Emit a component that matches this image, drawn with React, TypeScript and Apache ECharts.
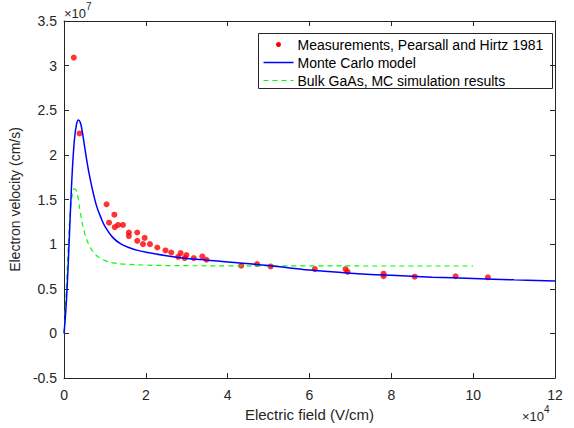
import React, { useEffect, useRef } from "react";
import * as echarts from "echarts";

const measX = [0.24, 0.38, 1.04, 1.10, 1.23, 1.24, 1.32, 1.44, 1.585, 1.585, 1.79, 1.79, 1.93, 1.97, 2.10, 2.28, 2.48, 2.62, 2.79, 2.85, 2.95, 2.99, 3.17, 3.38, 3.48, 4.33, 4.72, 5.05, 6.13, 6.88, 6.93, 7.81, 7.81, 8.57, 9.57, 10.36];
const measY = [3.09, 2.24, 1.446, 1.24, 1.33, 1.19, 1.215, 1.215, 1.13, 1.09, 1.13, 1.037, 1.00, 1.07, 1.00, 0.962, 0.929, 0.906, 0.858, 0.90, 0.844, 0.877, 0.844, 0.862, 0.825, 0.758, 0.777, 0.75, 0.72, 0.72, 0.69, 0.669, 0.64, 0.635, 0.64, 0.628];

const mcX = [0, 0.05, 0.1, 0.15, 0.2, 0.25, 0.3, 0.35, 0.4, 0.45, 0.5, 0.6, 0.7, 0.8, 0.9, 1.0, 1.2, 1.4, 1.6, 1.8, 2.0, 2.5, 3, 3.5, 4, 5, 6, 7, 8, 9, 10, 11, 12];
const mcY = [0, 0.3, 0.75, 1.3, 1.8, 2.15, 2.33, 2.39, 2.36, 2.25, 2.1, 1.82, 1.6, 1.42, 1.30, 1.2, 1.07, 1.0, 0.96, 0.93, 0.91, 0.87, 0.84, 0.82, 0.80, 0.76, 0.71, 0.675, 0.65, 0.63, 0.615, 0.60, 0.587];

const bulkX = [0, 0.05, 0.1, 0.15, 0.2, 0.25, 0.3, 0.35, 0.4, 0.5, 0.6, 0.7, 0.8, 0.9, 1.0, 1.2, 1.5, 2, 2.5, 3, 4, 6, 8, 10];
const bulkY = [0, 0.45, 0.95, 1.35, 1.55, 1.62, 1.60, 1.5, 1.35, 1.13, 1.0, 0.92, 0.87, 0.84, 0.815, 0.79, 0.775, 0.765, 0.76, 0.758, 0.757, 0.756, 0.755, 0.755];

const legendNames = ["Measurements, Pearsall and Hirtz 1981", "Monte Carlo model", "Bulk GaAs, MC simulation results"];
const xTitle = "Electric field (V/cm)";
const yTitle = "Electron velocity (cm/s)";

const FONT = "Liberation Sans, Arial, Helvetica, sans-serif";
const AX = "#262626";

export default function App() {
  const ref = useRef<HTMLDivElement>(null);
  useEffect(() => {
    const chart = echarts.init(ref.current!, null, { renderer: "svg" });
    const tickStyle = { show: true, inside: true, length: 5, lineStyle: { color: AX, width: 1 } };
    const axLine = { show: true, onZero: false, lineStyle: { color: AX, width: 1 } };
    chart.setOption({
      animation: false,
      textStyle: { fontFamily: FONT },
      grid: { left: 63, right: 19, top: 21, bottom: 50, containLabel: false },
      xAxis: [
        {
          type: "value", min: 0, max: 12, interval: 2, position: "bottom",
          axisLine: axLine, axisTick: tickStyle, splitLine: { show: false },
          axisLabel: { color: AX, fontSize: 14, margin: 10, fontFamily: FONT },
          name: xTitle, nameLocation: "middle", nameGap: 29,
          nameTextStyle: { color: AX, fontSize: 15, fontFamily: FONT },
        },
        {
          type: "value", min: 0, max: 12, interval: 2, position: "top",
          axisLine: axLine, axisTick: tickStyle, splitLine: { show: false },
          axisLabel: { show: false },
        },
      ],
      yAxis: [
        {
          type: "value", min: -0.5, max: 3.5, interval: 0.5, position: "left",
          axisLine: axLine, axisTick: tickStyle, splitLine: { show: false },
          axisLabel: { color: AX, fontSize: 14, margin: 7, fontFamily: FONT, formatter: (v: number) => String(v) },
          name: yTitle, nameLocation: "middle", nameGap: 34,
          nameTextStyle: { color: AX, fontSize: 14, fontFamily: FONT },
        },
        {
          type: "value", min: -0.5, max: 3.5, interval: 0.5, position: "right",
          axisLine: axLine, axisTick: tickStyle, splitLine: { show: false },
          axisLabel: { show: false },
        },
      ],
      series: [
        {
          type: "line", name: legendNames[2], data: bulkX.map((x, i) => [x, bulkY[i]]),
          smooth: 0.4, showSymbol: false, lineStyle: { color: "#00ff00", width: 1.2, type: [5, 4] },
        },
        {
          type: "line", name: legendNames[1], data: mcX.map((x, i) => [x, mcY[i]]),
          smooth: 0.4, showSymbol: false, lineStyle: { color: "#0000ff", width: 1.5 },
        },
        {
          type: "scatter", name: legendNames[0], data: measX.map((x, i) => [x, measY[i]]),
          symbol: "circle", symbolSize: 6, itemStyle: { color: "#ff0000" },
        },
      ],
      graphic: [
        {
          type: "text", left: 64, top: 1,
          style: {
            text: "{a|×10}{b|7}", fill: AX, fontFamily: FONT,
            rich: { a: { fontSize: 13, fill: AX, padding: [6, 0, 0, 0] }, b: { fontSize: 10, fill: AX, verticalAlign: "top" } },
          },
        },
        {
          type: "text", left: 522, top: 404,
          style: {
            text: "{a|×10}{b|4}", fill: AX, fontFamily: FONT,
            rich: { a: { fontSize: 13, fill: AX, padding: [6, 0, 0, 0] }, b: { fontSize: 10, fill: AX, verticalAlign: "top" } },
          },
        },
        {
          type: "group", left: 258, top: 33,
          children: [
            { type: "rect", shape: { x: 0, y: 0, width: 294, height: 55 }, style: { fill: "#fff", stroke: AX, lineWidth: 1 } },
            { type: "circle", shape: { cx: 20, cy: 11, r: 2.5 }, style: { fill: "#ff0000" } },
            { type: "line", shape: { x1: 5, y1: 29, x2: 35, y2: 29 }, style: { stroke: "#0000ff", lineWidth: 1.5 } },
            { type: "line", shape: { x1: 5, y1: 47, x2: 35, y2: 47 }, style: { stroke: "#00ff00", lineWidth: 1.2, lineDash: [5, 4] } },
            { type: "text", x: 39, y: 11, style: { text: legendNames[0], fill: "#000", fontSize: 14, fontFamily: FONT, verticalAlign: "middle" } },
            { type: "text", x: 39, y: 29, style: { text: legendNames[1], fill: "#000", fontSize: 14, fontFamily: FONT, verticalAlign: "middle" } },
            { type: "text", x: 39, y: 47, style: { text: legendNames[2], fill: "#000", fontSize: 14, fontFamily: FONT, verticalAlign: "middle" } },
          ],
        },
      ],
    });
    return () => chart.dispose();
  }, []);
  return <div ref={ref} style={{ width: 574, height: 428, position: "absolute", left: 0, top: 0, background: "#fff" }} />;
}
